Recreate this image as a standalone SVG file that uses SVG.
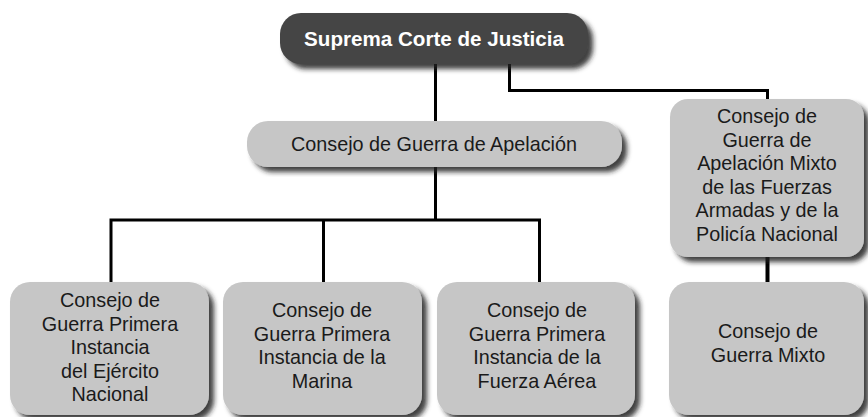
<svg xmlns="http://www.w3.org/2000/svg" width="868" height="417" viewBox="0 0 868 417">
<defs>
<filter id="sh" x="-10%" y="-10%" width="125%" height="130%">
<feDropShadow dx="5" dy="5" stdDeviation="2.5" flood-color="#222" flood-opacity="0.85"/>
</filter>
<style>
.box{fill:#c6c6c6;filter:url(#sh)}
.top{fill:#454545;filter:url(#sh)}
.t{font-family:"Liberation Sans",Arial,sans-serif;font-size:19.8px;fill:#1a1a1a;text-anchor:middle}
.tb{font-family:"Liberation Sans",Arial,sans-serif;font-size:20.6px;font-weight:bold;fill:#ffffff;text-anchor:middle}
.c{fill:none;stroke:#000;stroke-width:3}
</style>
</defs>
<rect width="868" height="417" fill="#fff"/>
<g id="connectors">
<path class="c" d="M435.5 64 V220"/>
<path class="c" d="M509.5 64 V90.5 H767.5 V99"/>
<path class="c" d="M111 282 V220 H539.5 V282"/>
<path class="c" d="M323.5 220 V282"/>
<path class="c" d="M767.5 257 V283" style="stroke-width:4"/>
</g>
<g id="n-suprema">
<rect class="top" x="280" y="13" width="308" height="51" rx="21"/>
<text class="tb" x="434" y="45.5">Suprema Corte de Justicia</text>
</g>
<g id="n-apelacion">
<rect class="box" x="247" y="121" width="375" height="46" rx="21"/>
<text class="t" x="434" y="151">Consejo de Guerra de Apelación</text>
</g>
<g id="n-apelacion-mixto">
<rect class="box" x="670" y="99" width="194" height="158" rx="18"/>
<text class="t" x="767" y="123">Consejo de</text>
<text class="t" x="767" y="146.5">Guerra de</text>
<text class="t" x="767" y="170">Apelación Mixto</text>
<text class="t" x="767" y="193.5">de las Fuerzas</text>
<text class="t" x="767" y="217">Armadas y de la</text>
<text class="t" x="767" y="240.5">Policía Nacional</text>
</g>
<g id="n-ejercito">
<rect class="box" x="10" y="282" width="199" height="133" rx="20"/>
<text class="t" x="110" y="307">Consejo de</text>
<text class="t" x="110" y="330.5">Guerra Primera</text>
<text class="t" x="110" y="354">Instancia</text>
<text class="t" x="110" y="377.5">del Ejército</text>
<text class="t" x="110" y="401">Nacional</text>
</g>
<g id="n-marina">
<rect class="box" x="223" y="282" width="199" height="133" rx="20"/>
<text class="t" x="322" y="317">Consejo de</text>
<text class="t" x="322" y="340.5">Guerra Primera</text>
<text class="t" x="322" y="364">Instancia de la</text>
<text class="t" x="322" y="387.5">Marina</text>
</g>
<g id="n-fuerza-aerea">
<rect class="box" x="437" y="282" width="198" height="133" rx="20"/>
<text class="t" x="537" y="317">Consejo de</text>
<text class="t" x="537" y="340.5">Guerra Primera</text>
<text class="t" x="537" y="364">Instancia de la</text>
<text class="t" x="537" y="387.5">Fuerza Aérea</text>
</g>
<g id="n-mixto">
<rect class="box" x="669" y="282" width="195" height="133" rx="20"/>
<text class="t" x="768" y="338">Consejo de</text>
<text class="t" x="768" y="362">Guerra Mixto</text>
</g>
</svg>
